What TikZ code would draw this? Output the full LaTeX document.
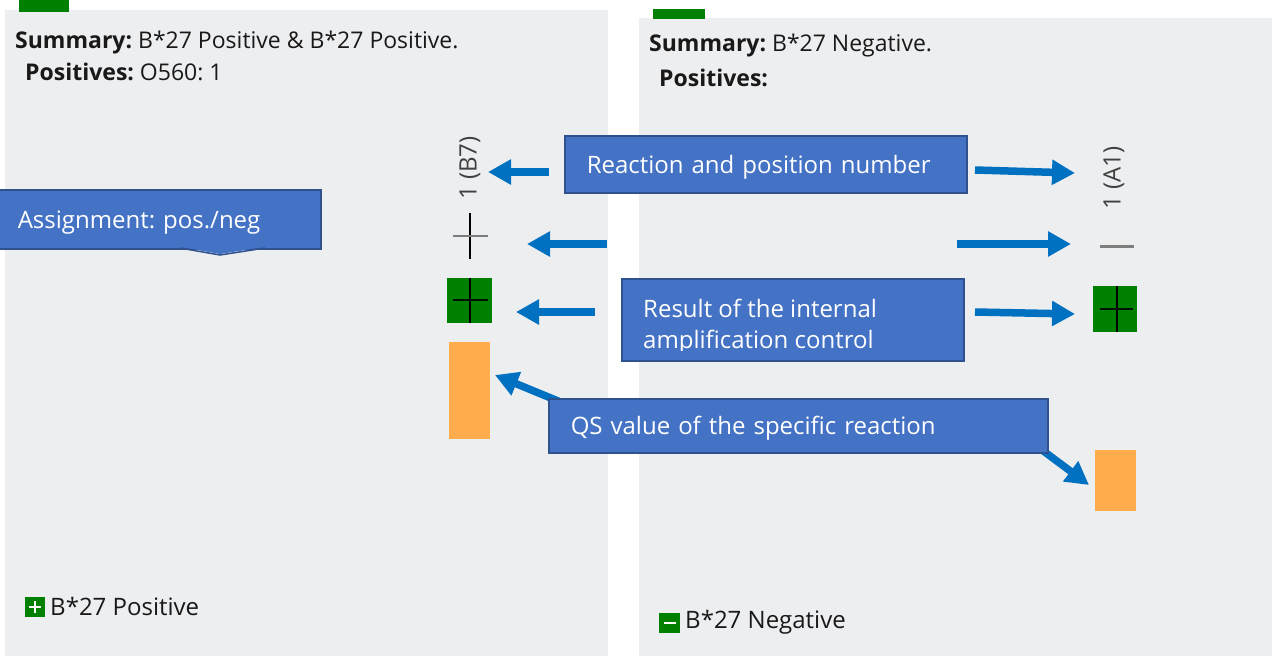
\documentclass[tikz,border=0pt]{standalone}
\usepackage{fontspec}
\setmainfont{Open Sans}
\usetikzlibrary{arrows.meta}
\frenchspacing
\definecolor{panelgray}{RGB}{237,238,240}
\definecolor{calloutblue}{RGB}{68,114,196}
\definecolor{calloutedge}{RGB}{47,82,143}
\definecolor{arrowblue}{RGB}{0,112,192}
\definecolor{iacgreen}{RGB}{0,128,0}
\definecolor{qsorange}{RGB}{255,173,76}
\definecolor{uitext}{RGB}{25,25,25}
\definecolor{markgray}{RGB}{125,125,125}
\begin{document}
\begin{tikzpicture}[x=1pt,y=-1pt,
  paneltext/.style={inner sep=0pt,anchor=base west,text=uitext,font=\fontsize{23}{27}\selectfont},
  legendtext/.style={paneltext,font=\fontsize{24}{28}\selectfont},
  callout/.style={draw=calloutedge,fill=calloutblue,line width=1.5pt,anchor=north west,inner xsep=22pt,inner ysep=0pt,text depth=0pt,text=white,font=\fontsize{24}{31}\selectfont},
  callouttext/.style={inner sep=0pt,anchor=north west,align=left,text=white,font=\fontsize{24}{31}\selectfont},
  pointer/.style={draw=arrowblue,line width=7.5pt,-{Triangle[length=23pt,width=24pt]}},
  wellmark/.style={inner sep=0pt,text=black!75,font=\fontsize{24}{28}\selectfont},
  iac/.style={fill=iacgreen,inner sep=0pt,minimum size=45pt},
  qsbar/.style={fill=qsorange,inner sep=0pt,anchor=north west},
  iconbox/.style={fill=iacgreen,inner sep=0pt,minimum size=20pt}]
\useasboundingbox (0,0) rectangle (1272,656);
\fill[white] (0,0) rectangle (1272,656);
% the two result panels
\fill[panelgray] (5,10) rectangle (608,656);
\fill[panelgray] (639,18) rectangle (1272,656);
\fill[iacgreen] (19,0) rectangle (69,12);
\fill[iacgreen] (653,9) rectangle (705,19);
\node[paneltext] (sumL) at (15,48) {\textbf{Summary:} B*27 Positive \& B*27 Positive.};
\node[paneltext] (posL) at (25,80) {\textbf{Positives:} O560: 1};
\node[paneltext] (sumR) at (649,51) {\textbf{Summary:} B*27 Negative.};
\node[paneltext] (posR) at (659,86) {\textbf{Positives:}};
% left well
\node[wellmark, rotate=90] (wellL) at (470,168) {1 (B7)};
\draw[line width=2pt] (470,213) -- (470,259);
\draw[markgray, line width=2.5pt] (453,236) -- (488,236);
\node[iac] (iacL) at (469.5,300.5) {};
\draw[line width=2pt] (iacL.north) -- (iacL.south);
\draw[black!85!iacgreen, line width=2pt] (453,300) -- (488,300);
\node[qsbar, minimum width=41pt, minimum height=97pt] (qsL) at (449,342) {};
% right well
\node[wellmark, rotate=90] (wellR) at (1114,178) {1 (A1)};
\draw[markgray, line width=3pt] (1100,246) -- (1134,246);
\node[iac, minimum width=44pt, minimum height=46pt] (iacR) at (1115,309) {};
\draw[line width=2pt] (1117,286) -- (1117,332);
\draw[black!85!iacgreen, line width=2pt] (1100,309) -- (1133,309);
\node[qsbar, minimum width=41pt, minimum height=61pt] (qsR) at (1095,450) {};
% legends
\node[iconbox] (iconpos) at (35,607) {};
\draw[white, line width=2.5pt] ([xshift=-6pt]iconpos.center) -- ([xshift=6pt]iconpos.center);
\draw[white, line width=2.5pt] ([yshift=-6pt]iconpos.center) -- ([yshift=6pt]iconpos.center);
\node[legendtext] (legpos) at (50,615) {B*27 Positive};
\node[iconbox, minimum width=21pt] (iconneg) at (669.5,623) {};
\draw[white, line width=2.5pt] ([xshift=-6pt]iconneg.center) -- ([xshift=6pt]iconneg.center);
\node[legendtext] (legneg) at (685,628) {B*27 Negative};
% arrows
\coordinate (tailB7) at (549,172);
\coordinate (tipB7) at (488,172);
\coordinate (tailPlus) at (607,244);
\coordinate (tipPlus) at (527,244);
\coordinate (tailIacL) at (595,312);
\coordinate (tipIacL) at (516,312);
\coordinate (tailQsL) at (575,408);
\coordinate (tipQsL) at (495,375);
\coordinate (tailA1) at (975,170);
\coordinate (tipA1) at (1075,173);
\coordinate (tailMinus) at (957,244);
\coordinate (tipMinus) at (1071,244);
\coordinate (tailIacR) at (975,312);
\coordinate (tipIacR) at (1075,314);
\coordinate (tailQsR) at (1030,441);
\coordinate (tipQsR) at (1089,485);
\draw[pointer] (tailB7) -- (tipB7);
\draw[pointer] (tailPlus) -- (tipPlus);
\draw[pointer] (tailIacL) -- (tipIacL);
\draw[pointer] (tailQsL) -- (tipQsL);
\draw[pointer] (tailA1) -- (tipA1);
\draw[pointer] (tailMinus) -- (tipMinus);
\draw[pointer] (tailIacR) -- (tipIacR);
\draw[pointer] (tailQsR) -- (tipQsR);
% callouts
\node[callout, text width=358pt, minimum height=57pt] (reaction) at (564,135) {Reaction and position number};
\node[callout, text width=281pt, minimum height=59pt] (assign) at (-5,189) {Assignment: pos./neg};
\fill[calloutblue] (181,247) -- (264,247) -- (220,254) -- cycle;
\draw[calloutedge, line width=1.5pt] (180,248) -- (220,255) -- (265,248);
\node[callout, text width=298pt, minimum height=82pt] (result) at (621,278) {};
\begin{scope}
\clip (621,278) rectangle (963,350);
\node[callouttext] (resulttext) at (643,299) {Result of the internal\\amplification control};
\end{scope}
\node[callout, text width=455pt, minimum height=54pt] (qs) at (548,398) {QS value of the specific reaction};
\end{tikzpicture}
\end{document}
